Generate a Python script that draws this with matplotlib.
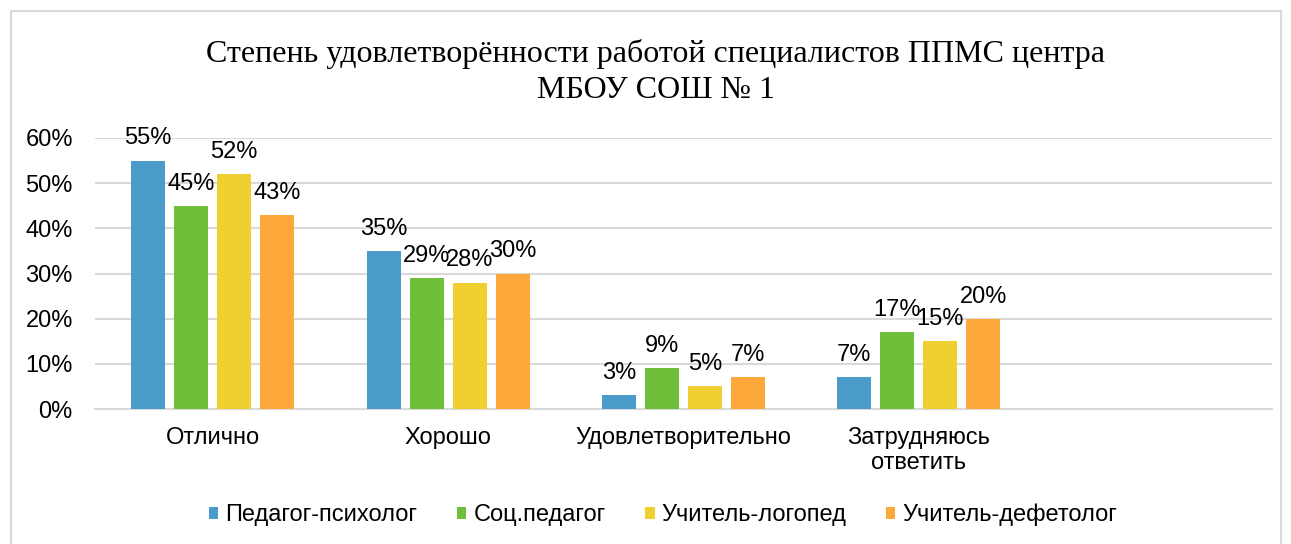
import matplotlib
matplotlib.use("Agg")
import matplotlib.pyplot as plt
from matplotlib.patches import Rectangle
import numpy as np

categories = ["Отлично", "Хорошо", "Удовлетворительно", "Затрудняюсь\nответить"]
series_names = ["Педагог-психолог", "Соц.педагог", "Учитель-логопед", "Учитель-дефетолог"]
psych = [55, 35, 3, 7]
soc = [45, 29, 9, 17]
logo = [52, 28, 5, 15]
defe = [43, 30, 7, 20]
yticks = [0, 10, 20, 30, 40, 50, 60]
title = "Степень удовлетворённости работой специалистов ППМС центра\nМБОУ СОШ № 1"

colors = ["#4A9BCA", "#70BF3A", "#F0D031", "#FDA83B"]
series = [psych, soc, logo, defe]

plt.rcParams["font.family"] = ["Liberation Sans", "DejaVu Sans"]
FS = 17

fig = plt.figure(figsize=(12.91, 5.44), dpi=100)
ax = fig.add_axes([95/1291, 135/544, (1272-95)/1291, (409-138)/544])

# outer border
fig.patches.append(Rectangle((11/1291, -0.01), (1281-11)/1291, (533)/544 + 0.01,
                             transform=fig.transFigure, fill=False,
                             edgecolor="#D9D9D9", linewidth=1.5))

x = np.arange(len(categories))
step = 43/235.3
width = 34/235.3
offsets = [-1.5, -0.5, 0.5, 1.5]
for vals, name, col, off in zip(series, series_names, colors, offsets):
    bars = ax.bar(x + off*step, vals, width=width, color=col, label=name, zorder=3)
    for b, v in zip(bars, vals):
        ax.annotate(f"{v}%", (b.get_x() + b.get_width()/2, v),
                    xytext=(0, 8), textcoords="offset points",
                    ha="center", va="bottom", fontsize=FS, color="#000000", zorder=4)

ax.set_xlim(-0.5, 4.5)
ax.set_ylim(0, 60)
ax.set_yticks(yticks)
ax.set_yticklabels([f"{t}%" for t in yticks], fontsize=FS)
ax.set_xticks(x)
ax.set_xticklabels(categories, fontsize=FS, linespacing=1.2)
ax.tick_params(axis="both", length=0)
ax.tick_params(axis="y", pad=16)
ax.tick_params(axis="x", pad=13)
ax.yaxis.grid(True, color="#D9D9D9", linewidth=1.5, zorder=0)
for s in ["left", "right", "top"]:
    ax.spines[s].set_visible(False)
ax.spines["bottom"].set_color("#D9D9D9")
ax.spines["bottom"].set_linewidth(1.5)

fig.text(656/1291, 1 - 72/544, title, ha="center", va="center",
         fontsize=23, family=["Liberation Serif", "DejaVu Serif"], linespacing=1.36)

leg = fig.legend(loc="center", bbox_to_anchor=(663/1291, 1 - 515/544), ncol=4,
                 frameon=False, fontsize=FS, handlelength=0.42, handleheight=0.42,
                 handletextpad=0.3, columnspacing=1.65)

fig.savefig("out.png", dpi=100)
